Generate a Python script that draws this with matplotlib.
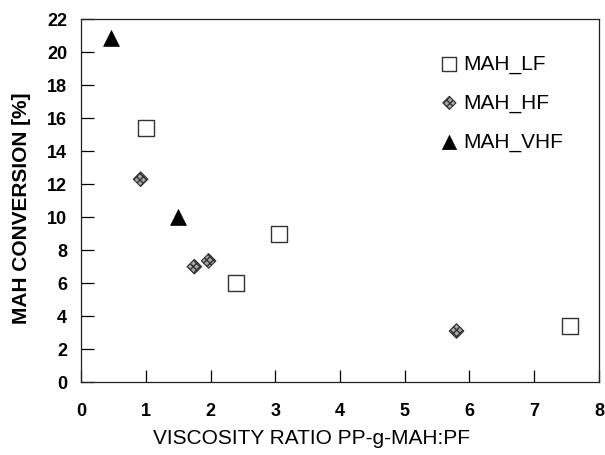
import matplotlib
matplotlib.use("Agg")
from matplotlib import pyplot as plt

plt.rcParams['font.family'] = ['Liberation Sans', 'DejaVu Sans']

# viscosity ratio PP-g-MAH:PF vs MAH conversion for three PF grades
lf_ratio = [1.0, 2.4, 3.05, 7.55]
lf_conv = [15.4, 6.0, 8.95, 3.4]

hf_ratio = [0.92, 1.75, 1.97, 5.8]
hf_conv = [12.3, 7.0, 7.35, 3.1]

vhf_ratio = [0.46, 1.5]
vhf_conv = [20.85, 10.0]

x_ticks = [0, 1, 2, 3, 4, 5, 6, 7, 8]
y_ticks = [0, 2, 4, 6, 8, 10, 12, 14, 16, 18, 20, 22]

fig = plt.figure(figsize=(6.05, 4.55), dpi=100)
ax = fig.add_axes([0.134, 0.16, 0.856, 0.798])

ax.scatter(lf_ratio, lf_conv, marker='s', s=125, facecolor='white',
           edgecolor='#333333', linewidths=1.0, label='MAH_LF', zorder=3)
ax.scatter(hf_ratio, hf_conv, marker='D', s=55, facecolor='#a8a8a8',
           edgecolor='#333333', linewidths=0.8, hatch='xxxxx',
           label='MAH_HF', zorder=3)
ax.scatter(vhf_ratio, vhf_conv, marker='^', s=130, facecolor='black',
           edgecolor='black', linewidths=0.5, label='MAH_VHF', zorder=3)

ax.set_xlim(0, 8)
ax.set_ylim(0, 22)
ax.set_xticks(x_ticks)
ax.set_yticks(y_ticks)
ax.tick_params(direction='in', length=9, width=0.9, labelsize=13)
ax.tick_params(axis='x', pad=15)
ax.tick_params(axis='y', pad=10)
for lbl in ax.get_xticklabels() + ax.get_yticklabels():
    lbl.set_fontweight('bold')
for sp in ax.spines.values():
    sp.set_linewidth(0.9)
    sp.set_color('#222222')

ax.set_xlabel('VISCOSITY RATIO PP-g-MAH:PF', fontsize=15)
ax.set_ylabel('MAH CONVERSION [%]', fontsize=15, fontweight='bold')
ax.xaxis.set_label_coords(0.445, -0.13)
ax.yaxis.set_label_coords(-0.096, 0.48)

ax.legend(loc='upper left', bbox_to_anchor=(0.675, 0.926), frameon=False,
          fontsize=15, handletextpad=0.15, labelspacing=0.95,
          handlelength=1.0, borderaxespad=0, markerscale=0.9)

fig.savefig('out.png', dpi=100)
